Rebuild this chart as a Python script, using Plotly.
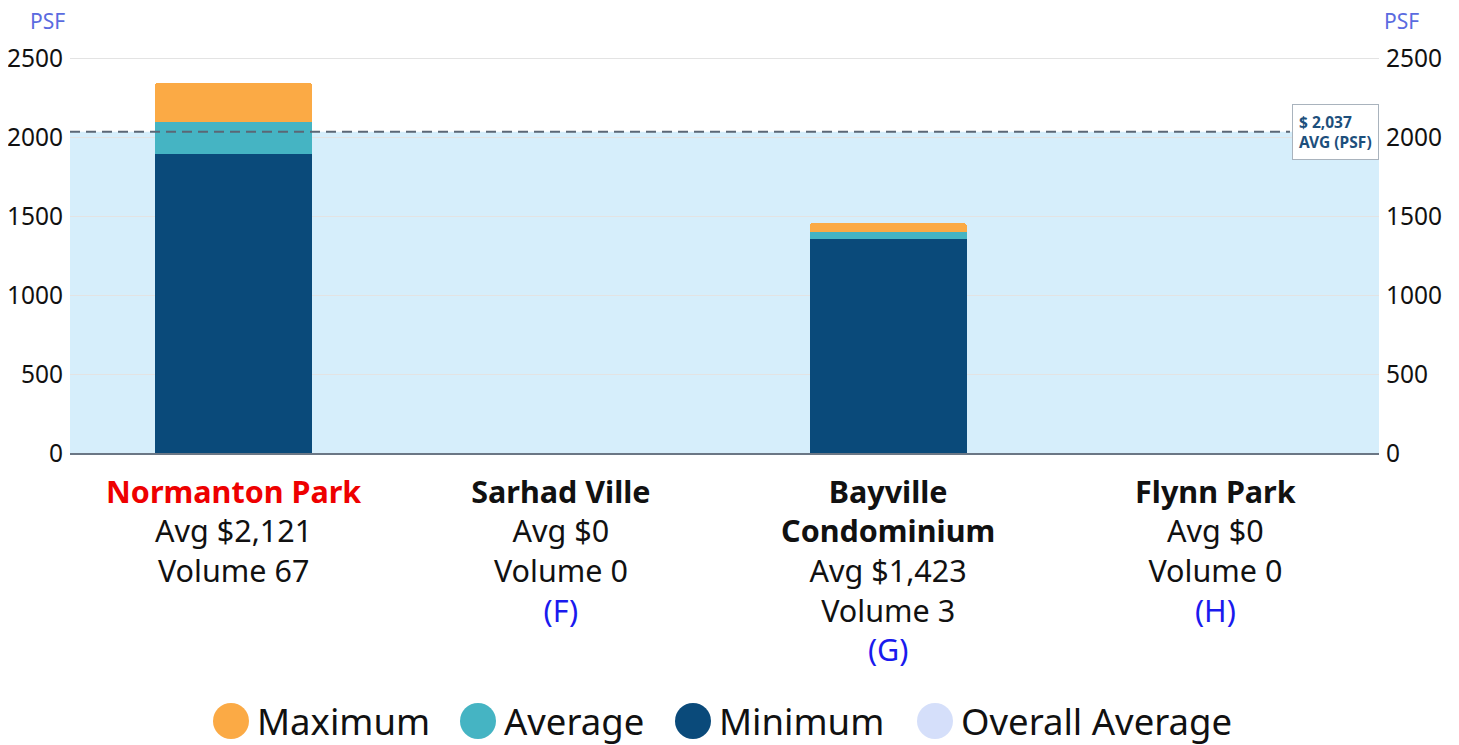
import plotly.graph_objects as go

categories = ["Normanton Park", "Sarhad Ville", "Bayville Condominium", "Flynn Park"]
name_lines = ["Normanton Park", "Sarhad Ville", "Bayville<br>Condominium", "Flynn Park"]
avg_text = ["$2,121", "$0", "$1,423", "$0"]
volumes = [67, 0, 3, 0]
letters = ["", "(F)", "(G)", "(H)"]
min_psf = [1898, 0, 1356, 0]
avg_psf = [2102, 0, 1404, 0]
max_psf = [2348, 0, 1457, 0]
overall_avg = 2037
y_ticks = [0, 500, 1000, 1500, 2000, 2500]

C_MAX = "#fbaa45"
C_AVG = "#45b4c3"
C_MIN = "#0a4a7a"
C_OVR = "#d5dffa"
C_BAND = "#d6eefb"
FONT = "Noto Sans"

# page body has an 8px margin; the figure is sized to fit the 1459x745 window
W, H = 1451, 737
L, T = 62, 35
PW, PH = 1309, 410
R, B = W - L - PW, H - T - PH

ticktext = []
for i, c in enumerate(categories):
    col = "#ee0000" if i == 0 else "#111111"
    t = f"<span style='color:{col}'><b>{name_lines[i]}</b></span><br>Avg {avg_text[i]}<br>Volume {volumes[i]}"
    if letters[i]:
        t += f"<br><span style='color:#1a1aee'>{letters[i]}</span>"
    ticktext.append(t)

seg_avg = [a - m for a, m in zip(avg_psf, min_psf)]
seg_max = [x - a for x, a in zip(max_psf, avg_psf)]

fig = go.Figure()
fig.add_trace(go.Bar(x=categories, y=min_psf, name="Minimum", marker=dict(color=C_MIN, line_width=0), showlegend=False))
fig.add_trace(go.Bar(x=categories, y=seg_avg, name="Average", marker=dict(color=C_AVG, line_width=0), showlegend=False))
fig.add_trace(go.Bar(x=categories, y=seg_max, name="Maximum", marker=dict(color=C_MAX, line_width=0), showlegend=False))
fig.add_trace(go.Scatter(x=categories, y=[None]*4, yaxis="y2", showlegend=False, hoverinfo="skip"))

fig.add_shape(type="rect", xref="paper", yref="y", x0=0, x1=1, y0=0, y1=overall_avg,
              fillcolor=C_BAND, line_width=0, layer="between")
fig.add_shape(type="line", xref="paper", yref="y", x0=0, x1=0.932, y0=overall_avg, y1=overall_avg,
              line=dict(color="#5b6775", width=2, dash="10px,6px"), layer="above")
fig.add_annotation(xref="paper", yref="y", x=1, y=overall_avg, xanchor="right", yanchor="middle",
                   text=f"<b>$ {overall_avg:,}<br>AVG (PSF)</b>", align="left", showarrow=False,
                   font=dict(family=FONT, size=15.5, color="#1d4f7c"),
                   bgcolor="white", bordercolor="#a9b3bd", borderwidth=1, borderpad=6)

for xp in [-0.0175, 1.0175]:
    fig.add_annotation(xref="paper", yref="paper", x=xp, y=(453 - 21) / PH, text="PSF", showarrow=False,
                       xanchor="center", yanchor="middle", font=dict(family=FONT, size=21, color="#5a6be0"))

legend_items = [("Maximum", C_MAX, 231), ("Average", C_AVG, 478), ("Minimum", C_MIN, 693), ("Overall Average", C_OVR, 935)]
ly = (453 - 721) / PH
for name, col, px in legend_items:
    xp = (px - 70) / PW
    fig.add_shape(type="circle", xref="paper", yref="paper", xsizemode="pixel", ysizemode="pixel",
                  xanchor=xp, yanchor=ly, x0=-18, x1=18, y0=-18, y1=18, fillcolor=col, line_width=0)
    fig.add_annotation(xref="paper", yref="paper", x=(px + 24 - 70) / PW, y=ly, text=name,
                       showarrow=False, xanchor="left", yanchor="middle",
                       font=dict(family=FONT, size=36.5, color="#111111"))

fig.update_layout(
    width=W, height=H,
    margin=dict(l=L, r=R, t=T, b=B, autoexpand=False),
    barmode="stack", bargap=0.52, barcornerradius=3,
    plot_bgcolor="white", paper_bgcolor="white",
    font=dict(family=FONT, color="#111111"),
    xaxis=dict(tickmode="array", tickvals=categories, ticktext=ticktext, automargin=False,
               tickfont=dict(family=FONT, size=30.5, color="#111111"), ticklabelstandoff=11,
               showline=True, linecolor="#6b7785", linewidth=2, ticks="", showgrid=False),
    yaxis=dict(range=[0, 2600], tickvals=y_ticks, tickfont=dict(family=FONT, size=24.5, color="#111111"),
               gridcolor="#e3e3e3", zeroline=False, ticks="", ticklabelstandoff=6, automargin=False),
    yaxis2=dict(range=[0, 2600], tickvals=y_ticks, overlaying="y", side="right", showgrid=False, automargin=False,
                tickfont=dict(family=FONT, size=24.5, color="#111111"), zeroline=False, ticklabelstandoff=6),
    showlegend=False,
)

fig.write_html("out.html")
